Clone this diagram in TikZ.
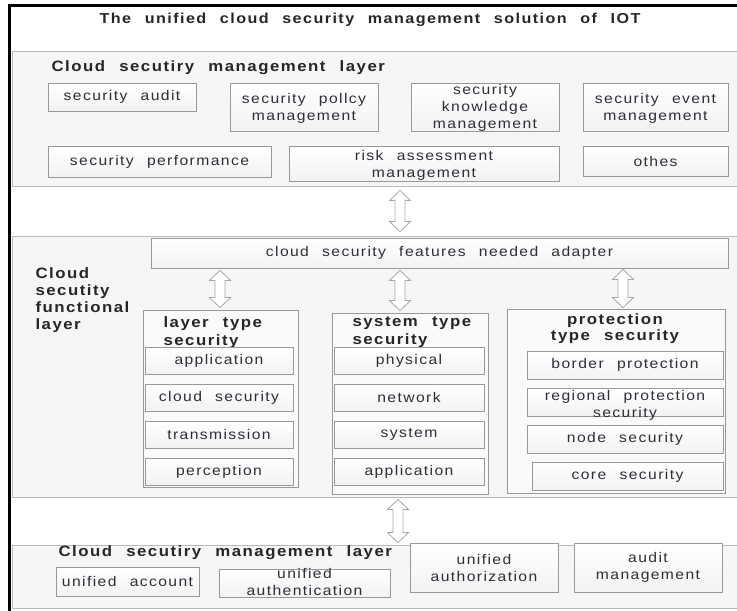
\documentclass[tikz,border=0pt]{standalone}
\usepackage{fontspec}
\setmainfont{Liberation Sans}[FakeStretch=1.12, LetterSpace=10, WordSpace=2.3]
\usetikzlibrary{calc}
\definecolor{txt}{HTML}{2E2E38}
\newcommand\hollowarr[3]{%
  \draw[harrow] let \p1=#1, \p2=#2 in
  (\x1,\y1-#3) -- (\x1+10.5pt,\y1-#3-10pt) -- (\x1+5pt,\y1-#3-10pt) --
  (\x1+5pt,\y2+#3+10pt) -- (\x1+10.5pt,\y2+#3+10pt) -- (\x1,\y2+#3) --
  (\x1-10.5pt,\y2+#3+10pt) -- (\x1-5pt,\y2+#3+10pt) -- (\x1-5pt,\y1-#3-10pt) --
  (\x1-10.5pt,\y1-#3-10pt) -- cycle;}
\begin{document}
\begin{tikzpicture}[x=1pt,y=-1pt,
  font=\fontsize{14}{17}\selectfont, text=txt,
  layerbox/.style={draw=gray!55, fill=gray!7, line width=0.9pt, inner sep=0pt},
  sbox/.style={draw=gray!80, line width=0.8pt, top color=white, bottom color=gray!10, inner sep=0pt, align=center},
  colbox/.style={draw=gray!80, line width=0.9pt, fill=gray!4, inner sep=0pt},
  bold/.style={font=\bfseries\fontsize{15}{17}\selectfont, text=black!85},
  harrow/.style={draw=gray!70, fill=white, line width=0.8pt, line join=miter}]
\useasboundingbox (0,0) rectangle (737,611);
\clip (0,0) rectangle (737,611);
% outer frame
\draw[line width=2.4pt, black] (9.5,720) -- (9.5,5.5) -- (760,5.5);
\node[bold, font=\bfseries\fontsize{14.4}{17}\selectfont] (title) at (370,20) {The unified cloud security management solution of IOT};

% ---------- layer 1
\node[layerbox, minimum width=735, minimum height=135] (lay1) at (379.5,118.5) {};
\node[bold, anchor=west] (l1title) at (48,68) {Cloud secutiry management layer};
\node[sbox, minimum width=148, minimum height=28] (audit) at (122,97) {security audit};
\node[sbox, minimum width=148, minimum height=48] (policy) at (304,107) {};
\node[align=center] (policytext) at (304,108.5) {security pollcy\\management};
\node[sbox, minimum width=148, minimum height=48] (know) at (485,107) {};
\node[align=center] (knowtext) at (485,108) {security\\knowledge\\management};
\node[sbox, minimum width=145, minimum height=48] (event) at (655.5,107) {};
\node[align=center] (eventtext) at (655.5,108.5) {security event\\management};
\node[sbox, minimum width=223, minimum height=31] (perf) at (159.5,161.5) {security performance};
\node[sbox, minimum width=270, minimum height=35] (risk) at (424,163.5) {};
\node[align=center] (risktext) at (424,165) {risk assessment\\management};
\node[sbox, minimum width=145, minimum height=30] (oth) at (655.5,161) {othes};

% ---------- layer 2
\node[layerbox, minimum width=735, minimum height=261] (lay2) at (379.5,366.5) {};
\node[sbox, minimum width=577, minimum height=30] (adapter) at (439.5,253) {cloud security features needed adapter};
\node[bold, anchor=north west, align=left, font=\bfseries\fontsize{15}{17}\selectfont] (flabel) at (32,264.5) {Cloud\\secutity\\functional\\layer};

\node[colbox, minimum width=155, minimum height=177] (col1) at (220.5,398.5) {};
\node[colbox, minimum width=156, minimum height=181] (col2) at (410,403.5) {};
\node[colbox, minimum width=218, minimum height=184] (col3) at (616,401) {};

\node[bold, anchor=north west, align=left, font=\bfseries\fontsize{15}{18}\selectfont] (c1title) at (160,313) {layer type\\security};
\node[bold, anchor=north west, align=left, font=\bfseries\fontsize{15}{18}\selectfont] (c2title) at (349,313) {system type\\security};
\node[bold, anchor=north, align=center, font=\bfseries\fontsize{15}{16}\selectfont] (c3title) at (615,310) {protection\\type security};

\node[sbox, minimum width=148, minimum height=27] (app1) at (219,360.5) {application};
\node[sbox, minimum width=148, minimum height=27] (cloud) at (219,397.5) {cloud security};
\node[sbox, minimum width=148, minimum height=27] (trans) at (219,434.5) {transmission};
\node[sbox, minimum width=148, minimum height=27] (perc) at (219,471.5) {perception};

\node[sbox, minimum width=150, minimum height=27] (phys) at (409,360.5) {physical};
\node[sbox, minimum width=150, minimum height=27] (net) at (409,397.5) {network};
\node[sbox, minimum width=150, minimum height=27] (sys) at (409,434.5) {system};
\node[sbox, minimum width=150, minimum height=27] (app2) at (409,471.5) {application};

\node[sbox, minimum width=196, minimum height=28] (border) at (625,365) {border protection};
\node[sbox, minimum width=196, minimum height=28] (regional) at (625,402) {};
\node[align=center] (regtext) at (625,405) {regional protection\\security};
\node[sbox, minimum width=196, minimum height=28] (nodesec) at (625,439) {node security};
\node[sbox, minimum width=191, minimum height=28] (core) at (627.5,476) {core security};

% ---------- layer 3
\node[layerbox, minimum width=735, minimum height=63] (lay3) at (379.5,576.5) {};
\node[bold, anchor=west] (l3title) at (55,553) {Cloud secutiry management layer};
\node[sbox, minimum width=143, minimum height=29] (acct) at (127.5,581.5) {unified account};
\node[sbox, minimum width=171, minimum height=28] (authn) at (304.5,583) {};
\node[align=center] (authntext) at (304.5,582) {unified\\authentication};
\node[sbox, minimum width=148, minimum height=49] (authz) at (484,567.5) {unified\\authorization};
\node[sbox, minimum width=148, minimum height=49] (auditm) at (648,567.5) {audit\\management};

% ---------- hollow double arrows
\coordinate (ax1) at (400,0);
\coordinate (ax2) at (220,0);
\coordinate (ax3) at (623,0);
\coordinate (ax4) at (398,0);
\hollowarr{(lay1.south -| ax1)}{(lay2.north -| ax1)}{4pt}
\hollowarr{(adapter.south -| ax2)}{(col1.north -| ax2)}{2pt}
\hollowarr{(adapter.south -| ax1)}{(col2.north -| ax1)}{2pt}
\hollowarr{(adapter.south -| ax3)}{(col3.north -| ax3)}{1pt}
\hollowarr{(lay2.south -| ax4)}{(lay3.north -| ax4)}{2pt}
\end{tikzpicture}
\end{document}
